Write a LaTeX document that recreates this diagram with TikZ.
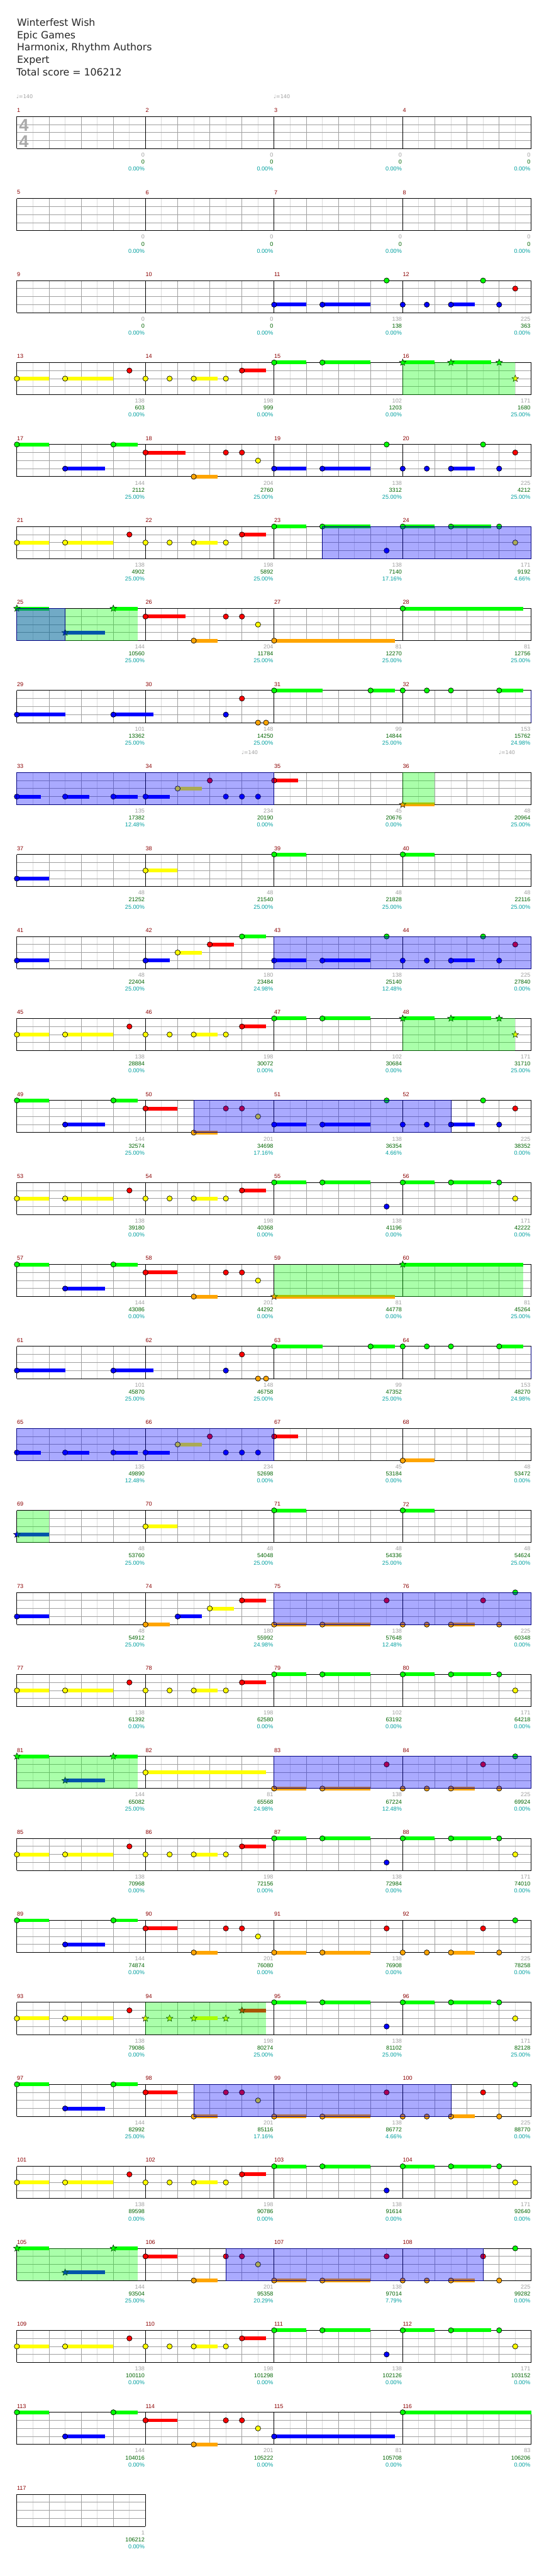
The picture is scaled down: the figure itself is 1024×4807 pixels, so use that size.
\documentclass[tikz,border=0pt]{standalone}
\usepackage{fontspec}
\setmainfont{Liberation Sans}
\newfontfamily\djv{DejaVu Sans}
\usetikzlibrary{shapes.geometric}
\definecolor{lane0}{RGB}{0,255,0}
\definecolor{lane1}{RGB}{255,0,0}
\definecolor{lane2}{RGB}{255,255,0}
\definecolor{lane3}{RGB}{0,0,255}
\definecolor{lane4}{RGB}{255,165,0}
\definecolor{odb}{RGB}{0,0,128}
\definecolor{lgc}{RGB}{220,220,220}
\definecolor{mgc}{RGB}{160,160,160}
\definecolor{mred}{RGB}{139,0,0}
\definecolor{sgr}{RGB}{160,160,160}
\definecolor{sgn}{RGB}{0,100,0}
\definecolor{stl}{RGB}{0,160,160}
\newcount\ncnt
\newcommand\NT[5]{%
  \pgfmathtruncatemacro\rr{(#2-1)/4}%
  \pgfmathtruncatemacro\cc{#2-1-4*\rr}%
  \pgfmathsetmacro\xa{31.5+240*\cc+60*(#3)}%
  \pgfmathsetmacro\xb{\xa+60*(#5)}%
  \pgfmathsetmacro\ya{-(217.5+153*\rr+15*#4)}%
  \global\advance\ncnt by 1
  \ifdim #5pt>0pt \fill[lane#4] (\xa,\ya-3.5) rectangle (\xb,\ya+3.5);\fi
  \ifnum#1=1 \node[starnote,fill=lane#4] (n\the\ncnt) at (\xa,\ya) {};%
  \else \node[note,fill=lane#4] (n\the\ncnt) at (\xa,\ya) {};\fi
}
\newcommand\QA[1]{\NT0{#1}{0}{2}{1}\NT0{#1}{1.5}{2}{1.5}\NT0{#1}{3.5}{1}{0}}
\newcommand\QB[2]{\NT#1{#2}{0}{2}{0}\NT#1{#2}{.75}{2}{0}\NT#1{#2}{1.5}{2}{.75}\NT#1{#2}{2.5}{2}{0}\NT#1{#2}{3}{1}{.75}}
\newcommand\QC[1]{\NT0{#1}{0}{0}{1}\NT0{#1}{1.5}{0}{1.5}}
\newcommand\QD[2]{\NT#1{#2}{0}{0}{1}\NT#1{#2}{1.5}{0}{1.25}\NT#1{#2}{3}{0}{0}\NT#1{#2}{3.5}{2}{0}}
\newcommand\QE[2]{\NT#1{#2}{0}{0}{1}\NT#1{#2}{1.5}{3}{1.25}\NT#1{#2}{3}{0}{.75}}
\newcommand\QF[2]{\NT0{#1}{0}{1}{#2}\NT0{#1}{1.5}{4}{.75}\NT0{#1}{2.5}{1}{0}\NT0{#1}{3}{1}{0}\NT0{#1}{3.5}{2}{0}}
\newcommand\QG[3]{\NT0{#1}{0}{#2}{1}\NT0{#1}{1.5}{#2}{1.5}\NT0{#1}{3.5}{#3}{0}}
\newcommand\QH[4]{\NT0{#1}{0}{#2}{0}\NT0{#1}{.75}{#2}{0}\NT0{#1}{1.5}{#2}{.75}\NT0{#1}{2.5}{#3}{0}\NT0{#1}{3}{#2}{0}\NT0{#1}{3.5}{#4}{0}}
\newcommand\QK[1]{%
  \NT0{#1}{0}{3}{1.5}\NT0{#1}{3}{3}{1.25}%
  \NT0{#1+1}{2.5}{3}{0}\NT0{#1+1}{3}{1}{0}\NT0{#1+1}{3.5}{4}{0}\NT0{#1+1}{3.75}{4}{0}%
  \NT0{#1+2}{0}{0}{1.5}\NT0{#1+2}{3}{0}{.75}%
  \NT0{#1+3}{0}{0}{0}\NT0{#1+3}{.75}{0}{0}\NT0{#1+3}{1.5}{0}{0}\NT0{#1+3}{3}{0}{.75}}
\newcommand\QL[1]{%
  \NT0{#1}{0}{3}{.75}\NT0{#1}{1.5}{3}{.75}\NT0{#1}{3}{3}{.75}%
  \NT0{#1+1}{0}{3}{.75}\NT0{#1+1}{1}{2}{.75}\NT0{#1+1}{2}{1}{0}\NT0{#1+1}{2.5}{3}{0}\NT0{#1+1}{3}{3}{0}\NT0{#1+1}{3.5}{3}{0}%
  \NT0{#1+2}{0}{1}{.75}}
\newcommand\SPR[3]{%
  \pgfmathtruncatemacro\rr{(#1-1)/4}%
  \pgfmathtruncatemacro\cc{#1-1-4*\rr}%
  \pgfmathsetmacro\xa{31.5+240*\cc+60*(#2)}%
  \pgfmathsetmacro\xb{\xa+60*(#3)}%
  \pgfmathsetmacro\ya{-(217.5+153*\rr)}%
  \fill[lane0,opacity=0.333] (\xa,\ya) rectangle (\xb,\ya-60);}
\newcommand\ODR[3]{%
  \pgfmathtruncatemacro\rr{(#1-1)/4}%
  \pgfmathtruncatemacro\cc{#1-1-4*\rr}%
  \pgfmathsetmacro\xa{31.5+240*\cc+60*(#2)}%
  \pgfmathsetmacro\xb{\xa+60*(#3)}%
  \pgfmathsetmacro\ya{-(217.5+153*\rr)}%
  \filldraw[fill=lane3,fill opacity=0.333,draw=odb,line width=1pt] (\xa,\ya) rectangle (\xb,\ya-60);}
\newcommand\ROW[2]{%
  \pgfmathsetmacro\yt{-(217.5+153*#1)}%
  \pgfmathtruncatemacro\rwd{240*#2}%
  \pgfmathtruncatemacro\rle{\rwd-30}%
  \pgfmathtruncatemacro\rlb{\rwd-60}%
  \foreach \dd in {30,90,...,\rle} {\draw[lgrid] (31.5+\dd,\yt) -- (31.5+\dd,\yt-60);}
  \foreach \hh in {15,30,45} {\draw[mgrid] (31.5,\yt-\hh) -- (31.5+\rwd,\yt-\hh);}
  \foreach \dd in {60,120,...,\rlb} {\draw[mgrid] (31.5+\dd,\yt) -- (31.5+\dd,\yt-60);}
  \foreach \dd in {0,240,...,\rwd} {\draw[bgrid] (31.5+\dd,\yt) -- (31.5+\dd,\yt-60);}
  \draw[bgrid] (31.5,\yt) -- (31.5+\rwd,\yt) (31.5,\yt-60) -- (31.5+\rwd,\yt-60);
}
\begin{document}
\begin{tikzpicture}[x=1pt,y=1pt,
  note/.style={circle,draw=black,line width=0.8pt,inner sep=0pt,minimum size=9.8pt},
  starnote/.style={star,star points=5,star point ratio=2.3,draw=black,line width=0.6pt,inner sep=0pt,minimum size=13pt},
  lgrid/.style={lgc,line width=1pt},
  mgrid/.style={mgc,line width=1pt},
  bgrid/.style={black,line width=1.1pt},
  title/.style={font=\djv\fontsize{18.5}{20}\selectfont,inner sep=0pt,anchor=base west,text=black!85},
  small/.style={font=\fontsize{10.7}{12}\selectfont,inner sep=0pt},
  mnum/.style={small,text=mred,anchor=west},
  sa/.style={small,text=sgr,anchor=east},
  sb/.style={small,text=sgn,anchor=east},
  sc/.style={small,text=stl,anchor=east},
  tempo/.style={font=\djv\fontsize{9.5}{11}\selectfont,text=sgr,inner sep=0pt,anchor=west},
  tsig/.style={font=\bfseries\fontsize{32}{32}\selectfont,text=sgr!90,inner sep=0pt}]
\useasboundingbox (0,0) rectangle (1024,-4807);
\fill[white] (0,0) rectangle (1024,-4807);
% header
\node[title] (t1) at (31.5,-48.3) {Winterfest Wish};
\node[title] (t2) at (31.5,-71.6) {Epic Games};
\node[title] (t3) at (31.5,-94.9) {Harmonix, Rhythm Authors};
\node[title] (t4) at (31.5,-118.2) {Expert};
\node[title] (t5) at (30.5,-141.5) {Total score = 106212};
\node[tempo] (tp1) at (30.5,-180) {♩=140};
\node[tempo] (tp2) at (510.5,-180) {♩=140};
\node[tempo] (tp3) at (450.5,-1404.5) {♩=140};
\node[tempo] (tp4) at (930.5,-1404.5) {♩=140};
% grids
\foreach \r in {0,...,28} {\ROW{\r}{4}}
\ROW{29}{1}
\node[tsig] (ts1) at (44.5,-233.5) {4};
\node[tsig] (ts2) at (44.5,-264) {4};
% labels
\foreach \m/\pa/\pb/\pc in {1/0/0/0.00,2/0/0/0.00,3/0/0/0.00,4/0/0/0.00,5/0/0/0.00,6/0/0/0.00,7/0/0/0.00,8/0/0/0.00,9/0/0/0.00,10/0/0/0.00,
11/138/138/0.00,12/225/363/0.00,13/138/603/0.00,14/198/999/0.00,15/102/1203/0.00,16/171/1680/25.00,
17/144/2112/25.00,18/204/2760/25.00,19/138/3312/25.00,20/225/4212/25.00,
21/138/4902/25.00,22/198/5892/25.00,23/138/7140/17.16,24/171/9192/4.66,
25/144/10560/25.00,26/204/11784/25.00,27/81/12270/25.00,28/81/12756/25.00,
29/101/13362/25.00,30/148/14250/25.00,31/99/14844/25.00,32/153/15762/24.98,
33/135/17382/12.48,34/234/20190/0.00,35/45/20676/0.00,36/48/20964/25.00,
37/48/21252/25.00,38/48/21540/25.00,39/48/21828/25.00,40/48/22116/25.00,
41/48/22404/25.00,42/180/23484/24.98,43/138/25140/12.48,44/225/27840/0.00,
45/138/28884/0.00,46/198/30072/0.00,47/102/30684/0.00,48/171/31710/25.00,
49/144/32574/25.00,50/201/34698/17.16,51/138/36354/4.66,52/225/38352/0.00,
53/138/39180/0.00,54/198/40368/0.00,55/138/41196/0.00,56/171/42222/0.00,
57/144/43086/0.00,58/201/44292/0.00,59/81/44778/0.00,60/81/45264/25.00,
61/101/45870/25.00,62/148/46758/25.00,63/99/47352/25.00,64/153/48270/24.98,
65/135/49890/12.48,66/234/52698/0.00,67/45/53184/0.00,68/48/53472/0.00,
69/48/53760/25.00,70/48/54048/25.00,71/48/54336/25.00,72/48/54624/25.00,
73/48/54912/25.00,74/180/55992/24.98,75/138/57648/12.48,76/225/60348/0.00,
77/138/61392/0.00,78/198/62580/0.00,79/102/63192/0.00,80/171/64218/0.00,
81/144/65082/25.00,82/81/65568/24.98,83/138/67224/12.48,84/225/69924/0.00,
85/138/70968/0.00,86/198/72156/0.00,87/138/72984/0.00,88/171/74010/0.00,
89/144/74874/0.00,90/201/76080/0.00,91/138/76908/0.00,92/225/78258/0.00,
93/138/79086/0.00,94/198/80274/25.00,95/138/81102/25.00,96/171/82128/25.00,
97/144/82992/25.00,98/201/85116/17.16,99/138/86772/4.66,100/225/88770/0.00,
101/138/89598/0.00,102/198/90786/0.00,103/138/91614/0.00,104/171/92640/0.00,
105/144/93504/25.00,106/201/95358/20.29,107/138/97014/7.79,108/225/99282/0.00,
109/138/100110/0.00,110/198/101298/0.00,111/138/102126/0.00,112/171/103152/0.00,
113/144/104016/0.00,114/201/105222/0.00,115/81/105708/0.00,116/83/106206/0.00,
117/1/106212/0.00}{
  \pgfmathtruncatemacro\rr{(\m-1)/4}
  \pgfmathtruncatemacro\cc{\m-1-4*\rr}
  \pgfmathsetmacro\xs{31.5+240*\cc}
  \pgfmathsetmacro\xe{\xs+240}
  \pgfmathsetmacro\yt{-(217.5+153*\rr)}
  \node[mnum] (mn\m) at (\xs,\yt+11.5) {\m};
  \node[sa] (sa\m) at (\xe-1.5,\yt-71.7) {\pa};
  \node[sb] (sb\m) at (\xe-1.5,\yt-84.7) {\pb};
  \node[sc] (sc\m) at (\xe-1.5,\yt-97.7) {\pc\%};
}
% notes
\QG{11}{3}{0}\QH{12}{3}{0}{1}
\QA{13}\QB0{14}\QC{15}\QD1{16}
\QE0{17}\QF{18}{1.25}\QG{19}{3}{0}\QH{20}{3}{0}{1}
\QA{21}\QB0{22}\QC{23}\NT0{23}{3.5}{3}{0}\QD0{24}
\QE1{25}\QF{26}{1.25}\NT0{27}{0}{4}{3.75}\NT0{28}{0}{0}{3.75}
\QK{29}
\QL{33}
\NT1{36}{0}{4}{1}
\NT0{37}{0}{3}{1}\NT0{38}{0}{2}{1}\NT0{39}{0}{0}{1}\NT0{40}{0}{0}{1}
\NT0{41}{0}{3}{1}
\NT0{42}{0}{3}{.75}\NT0{42}{1}{2}{.75}\NT0{42}{2}{1}{.75}\NT0{42}{3}{0}{.75}
\QG{43}{3}{0}\QH{44}{3}{0}{1}
\QA{45}\QB0{46}\QC{47}\QD1{48}
\QE0{49}\QF{50}{1}\QG{51}{3}{0}\QH{52}{3}{0}{1}
\QA{53}\QB0{54}\QC{55}\NT0{55}{3.5}{3}{0}\QD0{56}
\QE0{57}\QF{58}{1}\NT1{59}{0}{4}{3.75}\NT1{60}{0}{0}{3.75}
\QK{61}
\QL{65}
\NT0{68}{0}{4}{1}
\NT1{69}{0}{3}{1}\NT0{70}{0}{2}{1}\NT0{71}{0}{0}{1}\NT0{72}{0}{0}{1}
\NT0{73}{0}{3}{1}
\NT0{74}{0}{4}{.75}\NT0{74}{1}{3}{.75}\NT0{74}{2}{2}{.75}\NT0{74}{3}{1}{.75}
\QG{75}{4}{1}\QH{76}{4}{1}{0}
\QA{77}\QB0{78}\QC{79}\QD0{80}
\QE1{81}\NT0{82}{0}{2}{3.75}\QG{83}{4}{1}\QH{84}{4}{1}{0}
\QA{85}\QB0{86}\QC{87}\NT0{87}{3.5}{3}{0}\QD0{88}
\QE0{89}\QF{90}{1}\QG{91}{4}{1}\QH{92}{4}{1}{0}
\QA{93}\QB1{94}\QC{95}\NT0{95}{3.5}{3}{0}\QD0{96}
\QE0{97}\QF{98}{1}\QG{99}{4}{1}\QH{100}{4}{1}{0}
\QA{101}\QB0{102}\QC{103}\NT0{103}{3.5}{3}{0}\QD0{104}
\QE1{105}\QF{106}{1}\QG{107}{4}{1}\QH{108}{4}{1}{0}
\QA{109}\QB0{110}\QC{111}\NT0{111}{3.5}{3}{0}\QD0{112}
\QE0{113}\QF{114}{1}\NT0{115}{0}{3}{3.75}\NT0{116}{0}{0}{4}
% star power phrases
\SPR{16}{0}{3.5}\SPR{25}{0}{3.75}\SPR{36}{0}{1}\SPR{48}{0}{3.5}\SPR{59}{0}{7.75}
\SPR{69}{0}{1}\SPR{81}{0}{3.75}\SPR{94}{0}{3.75}\SPR{105}{0}{3.75}
% overdrive
\ODR{23}{1.5}{6.5}\ODR{25}{0}{1.5}
\ODR{32}{4}{0}\ODR{33}{0}{8}
\ODR{43}{0}{8}
\ODR{50}{1.5}{8}
\ODR{64}{4}{0}\ODR{65}{0}{8}
\ODR{75}{0}{8}
\ODR{83}{0}{8}
\ODR{98}{1.5}{8}
\ODR{106}{2.5}{8}
\end{tikzpicture}
\end{document}
